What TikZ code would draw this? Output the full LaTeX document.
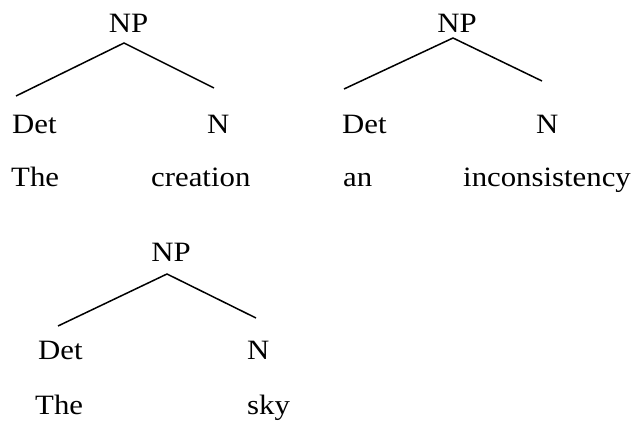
\documentclass[tikz,border=0pt]{standalone}
\usepackage{fontspec}
\setmainfont[FakeStretch=1.1]{Liberation Serif}
\begin{document}
\begin{tikzpicture}[x=1pt,y=-1pt,
  lab/.style={anchor=base west,inner sep=0pt,font=\fontsize{28}{30}\selectfont},
  cat/.style={anchor=base,inner sep=0pt,font=\fontsize{28}{30}\selectfont},
  branch/.style={line width=1.5pt}]
\useasboundingbox (0,0) rectangle (638,430);
% Tree 1
\node[cat] (np1) at (128.5,33) {NP};
\coordinate (a1) at (124,43);
\coordinate (l1) at (16,96);
\coordinate (r1) at (214,88);
\draw[branch] (l1) -- (a1) -- (r1);
\node[lab] (det1) at (12,134) {Det};
\node[lab] (n1) at (207,134) {N};
\node[lab] (w11) at (11,187) {The};
\node[lab] (w12) at (151,187) {creation};
% Tree 2
\node[cat] (np2) at (457,33) {NP};
\coordinate (a2) at (453,38);
\coordinate (l2) at (344,89);
\coordinate (r2) at (542,81);
\draw[branch] (l2) -- (a2) -- (r2);
\node[lab] (det2) at (342,134) {Det};
\node[lab] (n2) at (536,134) {N};
\node[lab] (w21) at (343,187) {an};
\node[lab] (w22) at (463,187) {inconsistency};
% Tree 3
\node[cat] (np3) at (171,262) {NP};
\coordinate (a3) at (167,274);
\coordinate (l3) at (58,326);
\coordinate (r3) at (256,318);
\draw[branch] (l3) -- (a3) -- (r3);
\node[lab] (det3) at (38,360) {Det};
\node[lab] (n3) at (247,360) {N};
\node[lab] (w31) at (35,415) {The};
\node[lab] (w32) at (247,415) {sky};
\end{tikzpicture}
\end{document}
